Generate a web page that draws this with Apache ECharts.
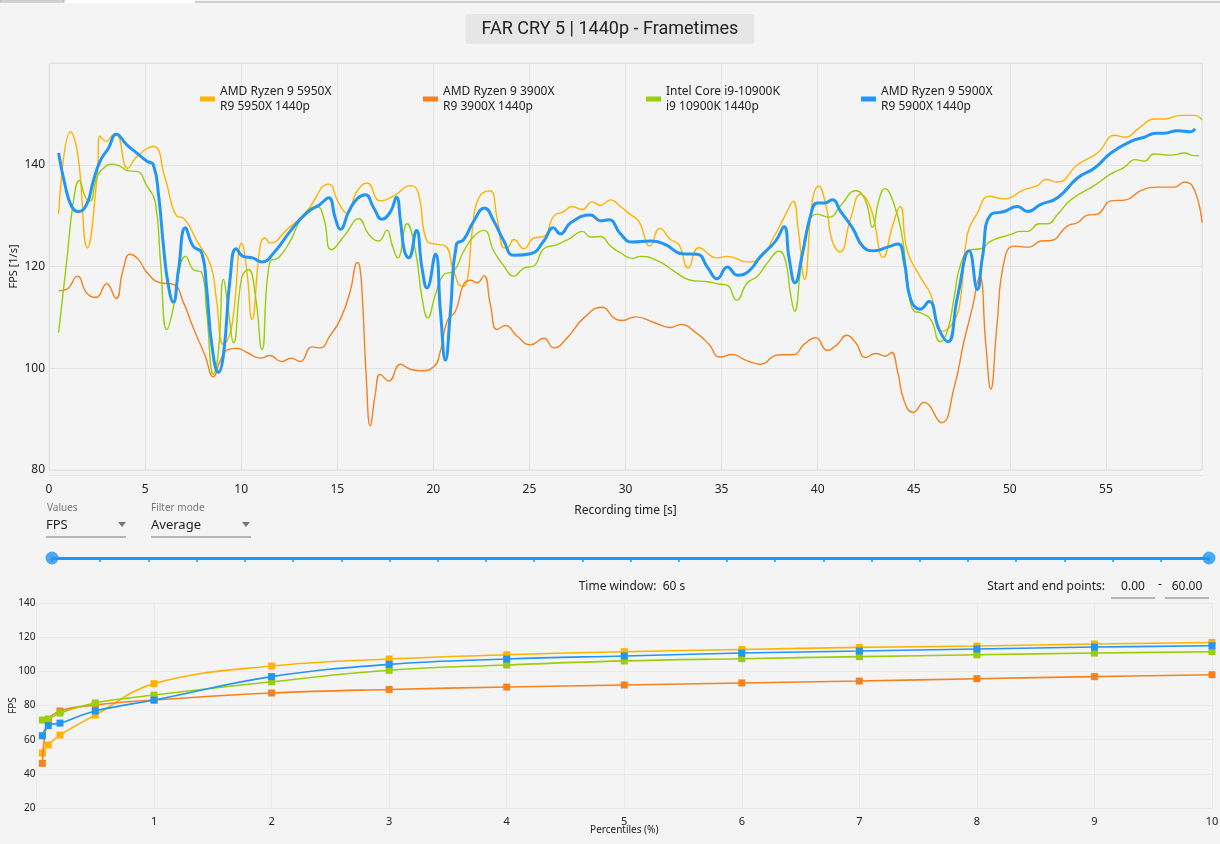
<!DOCTYPE html>
<html>
<head>
<meta charset="utf-8">
<script src="https://cdn.jsdelivr.net/npm/echarts@6/dist/echarts.min.js"></script>
<style>
html,body{margin:0;padding:0;background:#f4f4f4;}
#c{width:1220px;height:844px;}
</style>
</head>
<body>
<div id="c"></div>
<script>
// ---- Frametime (FPS over time) series: [time s, FPS] ----
var seriesNames = ['AMD Ryzen 9 5950X\nR9 5950X 1440p','AMD Ryzen 9 3900X\nR9 3900X 1440p','Intel Core i9-10900K\ni9 10900K 1440p','AMD Ryzen 9 5900X\nR9 5900X 1440p'];
var seriesColors = ['#FFB300','#F5821F','#9ACD0A','#2196F3'];

var r5950x = [[0.5,130.3],[1.13,146.5],[1.5,142],[2.0,123.7],[2.5,137.4],[2.65,145.6],[3.0,144.6],[3.26,145.6],[3.5,146],[4.1,139.3],[4.57,141.6],[5.43,143.6],[6.04,137.4],[6.65,129.9],[7.0,129.5],[7.7,125],[8.4,120.4],[8.7,113.9],[9.08,104.7],[9.5,108],[10.03,124.6],[10.3,119],[10.56,109.6],[11.0,124.3],[11.25,125.6],[11.5,124.6],[12.4,127.3],[13.4,130.8],[14.55,136.2],[15.07,132.5],[15.5,130.5],[16.03,134.8],[16.55,136.4],[17.24,132.9],[18.03,134.1],[18.81,135.9],[19.19,134.8],[19.67,125],[20.11,124.4],[20.63,124],[21.06,119.1],[21.5,116.1],[21.76,117.1],[22.02,126.9],[22.37,133.5],[22.94,134.9],[23.32,129.5],[23.67,123.7],[23.84,123.7],[24.19,125.3],[24.71,123.5],[25.23,125.6],[25.75,125.9],[26.27,129.9],[26.79,130.8],[27.23,131.8],[27.75,131.2],[28.27,132.7],[28.7,132],[29.22,133.1],[29.74,131.8],[30.26,130.2],[30.69,128.9],[31.27,124],[31.79,127.5],[32.34,125.3],[32.78,124.3],[33.26,119.7],[33.82,123.7],[34.77,121.7],[35.3,122],[36.34,120.9],[37.03,121.7],[37.73,125.9],[38.33,130.2],[38.72,132.8],[38.98,127.6],[39.32,117.5],[39.72,132.8],[40.04,135.8],[40.42,132.2],[40.76,125],[41.16,122.9],[41.72,129.5],[42.24,134.2],[42.76,131.5],[43.42,121.8],[43.89,127.9],[44.29,131.8],[44.67,123],[45.36,117.8],[45.88,114.5],[46.49,107.3],[47.1,109.3],[47.44,113.9],[47.79,126.3],[48.31,130.5],[48.92,133.8],[49.7,133.3],[50.74,135.1],[51.44,135.9],[51.87,137.1],[52.48,136.6],[53.52,140],[54.56,142.3],[55.47,145.8],[55.95,145.4],[56.82,147.5],[57.51,149],[58.03,149],[58.9,149.7],[59.6,149.7],[60.0,148.8]];

var r3900x = [[0.5,115.2],[0.92,115.5],[1.48,118.1],[1.96,114.8],[2.45,113.9],[3.0,116.6],[3.49,113.7],[3.84,119.1],[4.22,122.4],[4.65,121.4],[5.1,118.8],[5.8,116.8],[6.47,116.5],[7.0,112.9],[7.5,108],[8.1,102.7],[8.56,98.3],[8.9,101.4],[9.34,103.7],[9.77,103.9],[10.3,103.1],[11.0,102],[11.5,102.5],[12.1,101.3],[12.6,102],[13.07,101.3],[13.68,104.2],[14.1,104],[14.64,106.5],[15.16,109.6],[15.68,115.2],[15.94,120.3],[16.05,120.8],[16.18,119.8],[16.32,112.9],[16.51,98.2],[16.72,88.7],[16.98,94.9],[17.24,98.8],[17.68,97.5],[18.29,100.8],[18.8,99.8],[19.33,99.5],[20.02,100.3],[20.37,103.4],[20.72,109.3],[21.15,111.2],[21.58,116.5],[21.93,117.3],[22.28,116.8],[22.63,118.2],[22.97,112.5],[23.32,107.6],[23.75,108.4],[24.36,106.3],[25.06,104.6],[25.75,105.9],[26.27,104],[26.97,106],[27.83,109.9],[28.79,112],[29.4,109.9],[29.83,109.4],[30.52,110.1],[31.48,109],[32.34,108],[32.87,108.6],[33.73,106.8],[34.34,104.7],[34.91,102.2],[35.56,102.7],[36.25,101.6],[37.03,100.8],[37.9,102.6],[38.77,102.7],[39.29,104.7],[39.9,106],[40.5,103.5],[41.02,104.7],[41.51,106.5],[41.98,105],[42.5,102.1],[43.02,102.9],[43.54,102.4],[43.84,103.1],[44.15,99.5],[44.5,93.6],[44.98,91.3],[45.53,93.3],[46.44,89.3],[47.1,96.2],[47.62,105.4],[48.05,111.9],[48.43,118.1],[48.75,104.7],[49.01,95.9],[49.32,108],[49.7,121],[50.22,124],[51.0,123.8],[51.61,125],[52.13,125.1],[53.0,128],[53.52,128.6],[54.04,130.1],[54.56,130.3],[55.26,132.9],[56.04,133.1],[56.82,134.9],[57.69,135.6],[58.56,135.6],[59.08,136.6],[59.6,135.1],[60.0,128.6]];

var r10900k = [[0.5,107],[0.92,121],[1.27,132.8],[1.58,136.9],[1.87,133.8],[2.13,132.8],[2.48,137.4],[2.83,139.3],[3.26,140.1],[3.7,139.7],[4.13,138.8],[4.57,138.7],[5.1,135.8],[5.52,132.8],[5.8,121],[6.13,107.6],[6.47,111.9],[6.8,119.7],[7.1,122],[7.5,119.4],[7.95,118.8],[8.2,111.2],[8.56,98.8],[8.82,103.4],[9.08,117.5],[9.34,111.2],[9.6,105],[10.03,117.8],[10.38,119.4],[10.73,114.5],[11.08,103.7],[11.5,121],[11.94,121.7],[12.55,125],[13.25,130.2],[13.94,131.8],[14.3,129.5],[14.7,123.3],[15.42,126.3],[16.12,129.4],[16.64,126.3],[17.16,125],[17.59,127.1],[17.85,124.3],[18.15,121.7],[18.63,128.4],[19.07,123],[19.41,113.9],[19.71,109.9],[20.11,114.5],[20.54,118.4],[21.06,119.1],[21.58,123],[22.1,125.9],[22.63,127.1],[23.15,123],[23.67,120.1],[24.19,118.1],[24.71,119.7],[25.23,120.1],[25.75,123.5],[26.45,124.3],[27.14,125.6],[27.75,126.9],[28.18,125.8],[28.7,125.9],[29.22,124],[29.74,122.7],[30.35,121.6],[30.78,122],[31.74,121],[32.52,119.1],[33.39,117.3],[34.25,117],[34.95,116.5],[35.3,116.3],[35.78,113.4],[36.34,116.8],[36.86,118.1],[37.38,120.7],[37.99,123],[38.33,121],[38.59,114.5],[38.8,111.2],[39.12,119.7],[39.46,127.6],[39.98,130.3],[40.59,129.7],[41.2,132],[41.98,134.9],[42.5,132.8],[42.85,127.7],[43.19,133.1],[43.49,135.3],[43.98,132.2],[44.41,125.6],[44.7,116.5],[45.02,111.2],[45.36,110.9],[45.88,109.6],[46.37,105.2],[46.75,107.3],[47.1,113.9],[47.44,120.4],[47.97,123.3],[48.49,123.5],[49.01,125],[50.05,126.3],[50.57,126.9],[50.92,126.9],[51.52,128.4],[51.96,128.4],[52.48,130.2],[53.17,133.1],[54.39,135.9],[55.26,138.2],[55.95,139.5],[56.51,141],[56.99,140.7],[57.51,142.1],[58.38,141.9],[59.08,142.3],[59.6,141.8],[59.86,141.8]];

var r5900x = [[0.5,142.3],[0.83,136.1],[1.18,131.8],[1.53,130.8],[1.96,132.2],[2.3,136.7],[2.66,140.7],[3.1,143.3],[3.5,146],[4.05,143.9],[4.57,142.3],[5.1,140.7],[5.43,140],[5.7,134.1],[5.95,124.3],[6.2,116.5],[6.47,113],[6.73,119.1],[7.1,127.6],[7.5,124],[7.95,122.7],[8.2,115.8],[8.47,104.7],[8.82,99.2],[9.08,102.7],[9.43,117.8],[9.74,123.5],[10.1,122],[10.6,121.7],[11.08,120.9],[11.7,122.7],[12.55,126.9],[13.4,130.5],[14.1,132.2],[14.55,133.5],[14.9,129.5],[15.16,127.3],[15.6,130.8],[16.03,133.3],[16.46,134.1],[16.9,131.5],[17.33,129.3],[17.77,130.8],[18.08,133.6],[18.29,128.9],[18.5,123],[18.72,121.7],[19.12,127.1],[19.41,119.7],[19.67,115.8],[20.11,122.4],[20.37,111.2],[20.63,101.6],[20.89,111.2],[21.2,124.3],[21.58,125.3],[22.1,128.9],[22.66,131.5],[23.15,128.9],[23.67,125],[24.19,122.2],[25.06,122.5],[25.75,125],[26.24,127.6],[26.62,126.4],[27.14,128.6],[28.18,130.1],[28.7,129],[29.14,129.2],[29.74,126.4],[30.35,124.8],[31.3,125],[32.08,124.3],[32.95,122.5],[33.73,122.4],[34.29,119.7],[34.77,117.6],[35.3,119.9],[35.82,118.3],[36.42,119.1],[37.03,122],[37.81,125],[38.25,127.8],[38.51,121.7],[38.82,116.8],[39.2,122.4],[39.64,130.2],[39.98,132.5],[40.36,132.5],[40.76,133.1],[41.2,130.8],[41.81,127.6],[42.41,123.7],[42.93,123.1],[43.63,123.8],[44.18,124.4],[44.5,121],[44.84,113.5],[45.33,111.6],[45.79,113.1],[46.32,107.6],[46.78,105.2],[47.27,113.9],[47.88,123.1],[48.31,115.5],[48.57,121.7],[49.01,130.2],[49.7,130.8],[50.4,131.8],[50.92,130.8],[51.61,132.2],[52.48,133.5],[53.52,137.4],[54.39,139.3],[55.26,142.3],[56.3,144.6],[56.99,145.4],[57.6,146.2],[58.03,146.2],[58.73,146.7],[59.42,146.5],[59.63,147.1]];

// ---- Percentile chart ----
var percentiles = [0.05,0.1,0.2,0.5,1,2,3,4,5,6,7,8,9,10];
var p5950x  = [52.2,56.9,62.7,74.4,92.8,103.1,107.2,109.7,111.5,112.8,114.0,114.8,116.0,116.9];
var p3900x  = [46.1,70.9,76.8,80.3,83.2,87.3,89.4,90.8,92.0,93.2,94.3,95.7,96.9,98.0];
var p10900k = [71.5,72.1,75.6,81.5,86.1,93.9,100.6,103.7,106.1,107.4,108.6,109.7,110.7,111.5];
var p5900x  = [62.3,68.2,69.7,76.8,83.2,96.9,104.1,107.2,109.0,110.7,111.9,113.1,114.2,115.0];

// ---- Time window slider ----
var sliderEnds = [0, 60];

var UI = 'Noto Sans, sans-serif';
var frameData = [r5950x, r3900x, r10900k, r5900x];
var pctData = [p5950x, p3900x, p10900k, p5900x];
function zipPct(vals){ return percentiles.map(function(p,i){ return [p, vals[i]]; }); }

var legendLefts = [195, 418, 641, 856];
var legends = seriesNames.map(function(n, i){
  return {
    left: legendLefts[i], top: 79, orient: 'horizontal',
    itemWidth: 15, itemHeight: 5, icon: 'rect',
    data: [{name: n, itemStyle: {color: seriesColors[i]}}],
    textStyle: {fontFamily: UI, fontSize: 12, color: '#222', lineHeight: 15},
    selectedMode: false
  };
});

var series = [];
frameData.forEach(function(d, i){
  series.push({
    name: seriesNames[i], type: 'line', xAxisIndex: 0, yAxisIndex: 0,
    data: d, smooth: 0.5, showSymbol: false, symbol: 'none',
    lineStyle: {color: seriesColors[i], width: i === 3 ? 3 : 1.4},
    itemStyle: {color: seriesColors[i]}, z: 2 + i
  });
});
pctData.forEach(function(d, i){
  series.push({
    name: seriesNames[i] + ' pct', type: 'line', xAxisIndex: 1, yAxisIndex: 1,
    data: zipPct(d), smooth: 0.4, symbol: 'rect', symbolSize: 7, showSymbol: true,
    lineStyle: {color: seriesColors[i], width: 1.6},
    itemStyle: {color: seriesColors[i]}, z: 2 + i
  });
});
series.push({
  type: 'scatter', xAxisIndex: 2, yAxisIndex: 2,
  data: sliderEnds.map(function(v){ return [v, 0]; }),
  symbol: 'circle', symbolSize: 13, itemStyle: {color: '#2196F3'}, z: 10, silent: true
});

var gridLine = {show: true, lineStyle: {color: '#e3e3e3', width: 1}};

var option = {
  backgroundColor: '#f4f4f4',
  animation: false,
  title: {
    text: 'FAR CRY 5 | 1440p - Frametimes', left: 'center', top: 14,
    backgroundColor: '#e6e6e6', borderRadius: 3, padding: [6, 16, 6, 16],
    textStyle: {fontFamily: 'Roboto, sans-serif', fontSize: 18, fontWeight: 'normal', color: '#222'}
  },
  legend: legends,
  grid: [
    {left: 49, right: 18, top: 63, bottom: 374, show: true, borderColor: '#e3e3e3', borderWidth: 1, backgroundColor: 'transparent', containLabel: false, outerBoundsMode: 'none'},
    {left: 36.5, right: 8, top: 603, bottom: 36, containLabel: false, outerBoundsMode: 'none'},
    {left: 52, right: 11, top: 557, height: 1, containLabel: false, outerBoundsMode: 'none'}
  ],
  xAxis: [
    {gridIndex: 0, type: 'value', min: 0, max: 60, interval: 5, offset: 5,
     name: 'Recording time [s]', nameLocation: 'middle', nameGap: 30, nameMoveOverlap: false,
     nameTextStyle: {fontFamily: UI, fontSize: 12, color: '#222'},
     axisLine: {show: true, lineStyle: {color: '#e3e3e3'}}, axisTick: {show: false},
     axisLabel: {fontFamily: UI, fontSize: 12, color: '#222', margin: 9, showMaxLabel: false},
     splitLine: gridLine},
    {gridIndex: 1, type: 'value', min: 0, max: 10, interval: 1,
     name: 'Percentiles (%)', nameLocation: 'middle', nameGap: 17, nameMoveOverlap: false,
     nameTextStyle: {fontFamily: UI, fontSize: 10, color: '#222'},
     axisLine: {show: false}, axisTick: {show: false},
     axisLabel: {fontFamily: UI, fontSize: 11, color: '#222', margin: 8, showMinLabel: false},
     splitLine: {show: true, lineStyle: {color: '#eaeaea'}}},
    {gridIndex: 2, type: 'value', min: 0, max: 60, position: 'bottom',
     axisLine: {show: true, onZero: false, lineStyle: {color: '#2196F3', width: 3}},
     axisTick: {show: false}, axisLabel: {show: false}, splitLine: {show: false}},
    {gridIndex: 2, type: 'value', min: 0, max: 60, interval: 2.5, position: 'bottom', offset: 6,
     axisLine: {show: false}, axisTick: {show: true, length: 4, lineStyle: {color: '#2196F3', width: 1.5}},
     axisLabel: {show: false}, splitLine: {show: false}}
  ],
  yAxis: [
    {gridIndex: 0, type: 'value', min: 80, max: 160, interval: 20,
     name: 'FPS [1/s]', nameLocation: 'middle', nameGap: 30, nameMoveOverlap: false,
     nameTextStyle: {fontFamily: UI, fontSize: 11, color: '#222'},
     axisLine: {show: false}, axisTick: {show: false},
     axisLabel: {fontFamily: UI, fontSize: 12, color: '#222', margin: 4, showMaxLabel: false},
     splitLine: gridLine},
    {gridIndex: 1, type: 'value', min: 20, max: 140, interval: 20,
     name: 'FPS', nameLocation: 'middle', nameGap: 18, nameMoveOverlap: false,
     nameTextStyle: {fontFamily: UI, fontSize: 10, color: '#222'},
     axisLine: {show: false}, axisTick: {show: false},
     axisLabel: {fontFamily: UI, fontSize: 10, color: '#222', margin: 1},
     splitLine: {show: true, lineStyle: {color: '#eaeaea'}}},
    {gridIndex: 2, type: 'value', min: 0, max: 1, show: false}
  ],
  graphic: [
    // top tab bar
    {type: 'rect', shape: {x: 0, y: 0, width: 64, height: 2}, style: {fill: '#e8e8e8', stroke: '#b5b5b5', lineWidth: 1}},
    {type: 'rect', shape: {x: 66, y: 0, width: 129, height: 3}, style: {fill: '#ffffff'}},
    {type: 'line', shape: {x1: 195, y1: 2, x2: 1220, y2: 2}, style: {stroke: '#a8a8a8', lineWidth: 1}},
    // Values dropdown
    {type: 'text', x: 47, y: 508, style: {text: 'Values', fontFamily: UI, fontSize: 10, fill: '#777', verticalAlign: 'middle'}},
    {type: 'text', x: 46, y: 525, style: {text: 'FPS', fontFamily: UI, fontSize: 13, fill: '#222', verticalAlign: 'middle'}},
    {type: 'polygon', shape: {points: [[118, 522], [126, 522], [122, 527]]}, style: {fill: '#777'}},
    {type: 'line', shape: {x1: 46, y1: 537, x2: 126, y2: 537}, style: {stroke: '#777', lineWidth: 1}},
    // Filter mode dropdown
    {type: 'text', x: 151, y: 508, style: {text: 'Filter mode', fontFamily: UI, fontSize: 10, fill: '#777', verticalAlign: 'middle'}},
    {type: 'text', x: 151, y: 525, style: {text: 'Average', fontFamily: UI, fontSize: 13, fill: '#222', verticalAlign: 'middle'}},
    {type: 'polygon', shape: {points: [[242, 522], [250, 522], [246, 527]]}, style: {fill: '#777'}},
    {type: 'line', shape: {x1: 151, y1: 537, x2: 251, y2: 537}, style: {stroke: '#777', lineWidth: 1}},
    // time window texts
    {type: 'text', x: 632, y: 587, style: {text: 'Time window:  60 s', fontFamily: UI, fontSize: 12, fill: '#222', align: 'center', verticalAlign: 'middle'}},
    {type: 'text', x: 1105, y: 587, style: {text: 'Start and end points:', fontFamily: UI, fontSize: 12, fill: '#222', align: 'right', verticalAlign: 'middle'}},
    {type: 'text', x: 1133, y: 587, style: {text: '0.00', fontFamily: UI, fontSize: 12, fill: '#222', align: 'center', verticalAlign: 'middle'}},
    {type: 'line', shape: {x1: 1111, y1: 598, x2: 1155, y2: 598}, style: {stroke: '#777', lineWidth: 1}},
    {type: 'text', x: 1160, y: 585, style: {text: '-', fontFamily: UI, fontSize: 12, fill: '#222', align: 'center', verticalAlign: 'middle'}},
    {type: 'text', x: 1187, y: 587, style: {text: '60.00', fontFamily: UI, fontSize: 12, fill: '#222', align: 'center', verticalAlign: 'middle'}},
    {type: 'line', shape: {x1: 1165, y1: 598, x2: 1209, y2: 598}, style: {stroke: '#777', lineWidth: 1}}
  ],
  series: series
};

var chart = echarts.init(document.getElementById('c'), null, {renderer: 'canvas'});
chart.setOption(option);
</script>
</body>
</html>
